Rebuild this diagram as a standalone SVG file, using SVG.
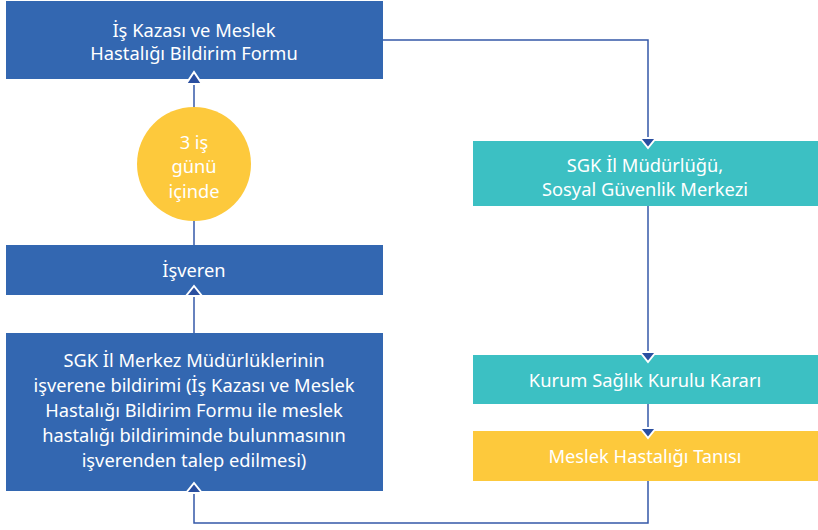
<svg xmlns="http://www.w3.org/2000/svg" width="818" height="530" viewBox="0 0 818 530">
<defs>
<style>
.blue{fill:#3367b1}
.teal{fill:#3cc0c3}
.yellow{fill:#fdc93c}
text{font-family:"Noto Sans","Open Sans","DejaVu Sans",sans-serif;font-size:18.3px;fill:#ffffff;text-anchor:middle}
.conn{fill:none;stroke:#3558a8;stroke-width:1.5}
.ah{fill:#2a4fa0;stroke:#ffffff;stroke-width:2}
</style>
</defs>
<g id="connectors">
<path class="conn" d="M194,108 L194,80"/>
<path class="conn" d="M194,245 L194,220"/>
<path class="conn" d="M194,333 L194,296"/>
<path class="conn" d="M383,40 L648,40 L648,140"/>
<path class="conn" d="M648,206 L648,355"/>
<path class="conn" d="M648,404 L648,431"/>
<path class="conn" d="M648,481 L648,523 L194,523 L194,492"/>
</g>
<g id="n1">
<rect class="blue" x="6" y="1" width="377" height="78"/>
<text x="194" y="37">İş Kazası ve Meslek</text>
<text x="194" y="60">Hastalığı Bildirim Formu</text>
</g>
<g id="n2">
<circle class="yellow" cx="194" cy="164" r="57"/>
<text x="194" y="149">3 iş</text>
<text x="194" y="173">günü</text>
<text x="194" y="198">içinde</text>
</g>
<g id="n3">
<rect class="blue" x="6" y="245" width="377" height="50"/>
<text x="194" y="277">İşveren</text>
</g>
<g id="n4">
<rect class="blue" x="6" y="333" width="377" height="158"/>
<text x="194" y="367">SGK İl Merkez Müdürlüklerinin</text>
<text x="194" y="392">işverene bildirimi (İş Kazası ve Meslek</text>
<text x="194" y="417">Hastalığı Bildirim Formu ile meslek</text>
<text x="194" y="442">hastalığı bildiriminde bulunmasının</text>
<text x="194" y="467">işverenden talep edilmesi)</text>
</g>
<g id="n5">
<rect class="teal" x="473" y="141" width="345" height="65"/>
<text x="645" y="172">SGK İl Müdürlüğü,</text>
<text x="645" y="196">Sosyal Güvenlik Merkezi</text>
</g>
<g id="n6">
<rect class="teal" x="473" y="355" width="345" height="49"/>
<text x="645" y="387">Kurum Sağlık Kurulu Kararı</text>
</g>
<g id="n7">
<rect class="yellow" x="473" y="431" width="345" height="50"/>
<text x="645" y="463">Meslek Hastalığı Tanısı</text>
</g>
<g id="arrows">
<path class="ah" d="M186,84 L202,84 L194,72 Z"/>
<path class="ah" d="M186,296 L202,296 L194,286 Z"/>
<path class="ah" d="M186,493 L202,493 L194,483 Z"/>
<path class="ah" d="M640,138 L656,138 L648,148 Z"/>
<path class="ah" d="M640,352 L656,352 L648,362 Z"/>
<path class="ah" d="M640,428 L656,428 L648,438 Z"/>
</g>
</svg>
